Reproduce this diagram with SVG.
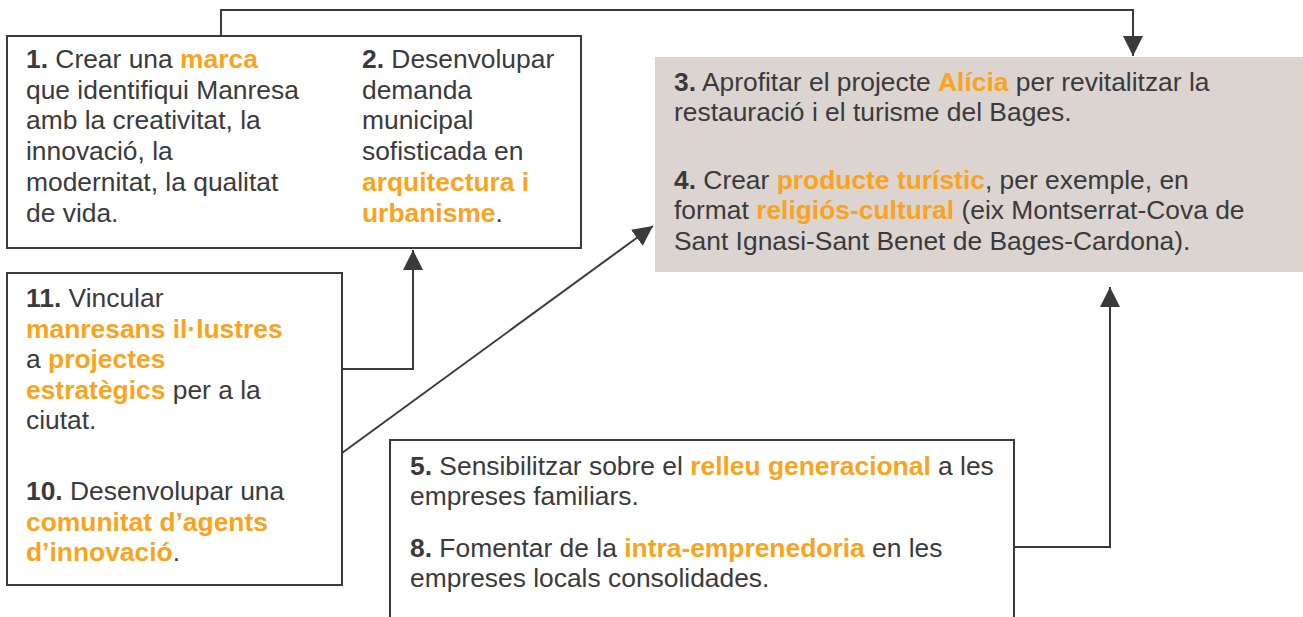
<svg xmlns="http://www.w3.org/2000/svg" width="1303" height="617" viewBox="0 0 1303 617">
<defs>
<style>
text{font-family:"Liberation Sans",Arial,sans-serif;font-size:26.4px;fill:#3a3a3c}
.b{font-weight:bold}
.o{font-weight:bold;fill:#f9a31e}
.box{fill:#ffffff;stroke:#3a3a3c;stroke-width:2}
.gray{fill:#dbd4d0;stroke:none}
.c{fill:none;stroke:#3a3a3c;stroke-width:2}
</style>
<marker id="ah" viewBox="0 0 20 20" refX="20" refY="10" markerWidth="20" markerHeight="20" markerUnits="userSpaceOnUse" orient="auto">
<path d="M0,0 L20,10 L0,20 Z" fill="#3a3a3c"/>
</marker>
</defs>
<rect width="1303" height="617" fill="#ffffff"/>
<g id="connectors">
<path class="c" d="M221,36 V10 H1133 V56" marker-end="url(#ah)"/>
<path class="c" d="M342,369 H413 V250" marker-end="url(#ah)"/>
<path class="c" d="M342,453 L653,226" marker-end="url(#ah)"/>
<path class="c" d="M1014,547 H1110 V287" marker-end="url(#ah)"/>
</g>
<g id="node-1-2">
<rect class="box" x="7" y="36" width="574" height="212"/>
<text x="26" y="68"><tspan class="b">1.</tspan> Crear una <tspan class="o">marca</tspan></text>
<text x="26" y="98.7">que identifiqui Manresa</text>
<text x="26" y="129.4">amb la creativitat, la</text>
<text x="26" y="160">innovació, la</text>
<text x="26" y="190.8">modernitat, la qualitat</text>
<text x="26" y="221.5">de vida.</text>
<text x="362" y="68"><tspan class="b">2.</tspan> Desenvolupar</text>
<text x="362" y="98.7">demanda</text>
<text x="362" y="129.4">municipal</text>
<text x="362" y="160">sofisticada en</text>
<text x="362" y="190.8" class="o">arquitectura i</text>
<text x="362" y="221.5"><tspan class="o">urbanisme</tspan>.</text>
</g>
<g id="node-3-4">
<rect class="gray" x="655" y="57" width="648" height="215"/>
<text x="674" y="91"><tspan class="b">3.</tspan> Aprofitar el projecte <tspan class="o">Alícia</tspan> per revitalitzar la</text>
<text x="674" y="121">restauració i el turisme del Bages.</text>
<text x="674" y="189"><tspan class="b">4.</tspan> Crear <tspan class="o">producte turístic</tspan>, per exemple, en</text>
<text x="674" y="219">format <tspan class="o">religiós-cultural</tspan> (eix Montserrat-Cova de</text>
<text x="674" y="250">Sant Ignasi-Sant Benet de Bages-Cardona).</text>
</g>
<g id="node-11-10">
<rect class="box" x="7" y="273" width="335" height="312"/>
<text x="26" y="307"><tspan class="b">11.</tspan> Vincular</text>
<text x="26" y="338" class="o">manresans il·lustres</text>
<text x="26" y="368">a <tspan class="o">projectes</tspan></text>
<text x="26" y="399"><tspan class="o">estratègics</tspan> per a la</text>
<text x="26" y="429">ciutat.</text>
<text x="26" y="500"><tspan class="b">10.</tspan> Desenvolupar una</text>
<text x="26" y="531" class="o">comunitat d’agents</text>
<text x="26" y="561"><tspan class="o">d’innovació</tspan>.</text>
</g>
<g id="node-5-8">
<rect class="box" x="390" y="440" width="624" height="190"/>
<text x="410" y="475"><tspan class="b">5.</tspan> Sensibilitzar sobre el <tspan class="o">relleu generacional</tspan> a les</text>
<text x="410" y="505">empreses familiars.</text>
<text x="410" y="557"><tspan class="b">8.</tspan> Fomentar de la <tspan class="o">intra-emprenedoria</tspan> en les</text>
<text x="410" y="587">empreses locals consolidades.</text>
</g>
</svg>
